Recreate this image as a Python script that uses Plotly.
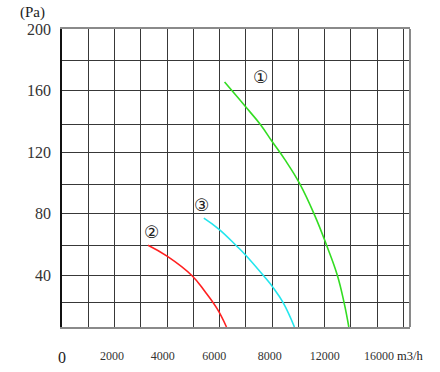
import plotly.graph_objects as go

# Curve data (x in chart axis units: one grid column = 1000)
flow_1 = [6190, 6960, 7560, 8000, 8480, 9055, 9630, 10070, 10480, 10740, 10920]
pres_1 = [165.5, 150.1, 137.8, 126.9, 115.3, 99.4, 78.6, 59.7, 40.2, 22.2, 6.4]
flow_2 = [3276, 4000, 4952, 5436, 5905, 6263]
pres_2 = [59.5, 52.4, 39.7, 29.6, 18.3, 6.4]
flow_3 = [5400, 5970, 6620, 6960, 7660, 8040, 8420, 8850]
pres_3 = [77.1, 70, 59.5, 53.7, 40, 32, 22.2, 6.4]

curve_labels = ["①", "②", "③"]
label_x = [7560, 3410, 5310]
label_y = [169, 68, 85.7]

x_tickvals = [1900, 3840, 5800, 7910, 10000, 12070]
x_ticktext = ["2000", "4000", "6000", "8000", "12000", "16000"]
y_tickvals = [22.2, 40, 59.5, 80, 99.2, 120, 137.8, 160, 179.6, 200]
y_ticktext = ["", "40", "", "80", "", "120", "", "160", "", "200"]

serif = "Liberation Serif, DejaVu Serif, serif"

fig = go.Figure()
for fx, py, col in [(flow_1, pres_1, "#33dd22"), (flow_2, pres_2, "#ff2020"), (flow_3, pres_3, "#22e6ee")]:
    fig.add_trace(go.Scatter(x=fx, y=py, mode="lines",
                             line=dict(color=col, width=1.6, shape="spline", smoothing=1.2),
                             showlegend=False, hoverinfo="skip"))

for t, lx, ly in zip(curve_labels, label_x, label_y):
    fig.add_annotation(x=lx, y=ly, text=t, showarrow=False, xanchor="center", yanchor="middle",
                       font=dict(family="DejaVu Sans", size=17, color="#222"))

fig.add_annotation(x=0, y=0, xref="x", yref="paper", yshift=-30, text="0", showarrow=False,
                   xanchor="center", yanchor="middle",
                   font=dict(family=serif, size=16, color="#222"))
fig.add_annotation(x=1, y=0, xref="paper", yref="paper", yshift=-29, text="m3/h", showarrow=False,
                   xanchor="center", yanchor="middle",
                   font=dict(family=serif, size=12.5, color="#222"))
fig.add_annotation(x=-0.086, y=1, xref="paper", yref="paper", yshift=17, text="(Pa)", showarrow=False,
                   xanchor="center", yanchor="middle",
                   font=dict(family=serif, size=15, color="#222"))

# right border
fig.add_shape(type="line", xref="paper", yref="paper", x0=1, x1=1, y0=0, y1=1,
              line=dict(color="#8a8a8a", width=2))

fig.update_layout(
    width=440, height=372,
    margin=dict(l=62, r=30, t=29, b=45, autoexpand=False),
    paper_bgcolor="white", plot_bgcolor="white",
    xaxis=dict(range=[0, 13250], tickmode="array", tickvals=x_tickvals, ticktext=x_ticktext,
               showgrid=False, zeroline=False, ticks="", ticklabelstandoff=17, automargin=False,
               tickfont=dict(family=serif, size=12, color="#333"),
               showline=True, linecolor="#8a8a8a", linewidth=2, mirror=True,
               minor=dict(tickmode="linear", tick0=0, dtick=1000, showgrid=True,
                          gridcolor="#383838", gridwidth=1.3, ticks="")),
    yaxis=dict(range=[6.4, 200], tickmode="array", tickvals=y_tickvals, ticktext=y_ticktext,
               showgrid=True, gridcolor="#383838", gridwidth=1.3, zeroline=False, ticks="",
               ticklabelstandoff=6, automargin=False,
               tickfont=dict(family=serif, size=16, color="#333"),
               showline=True, linecolor="#111", linewidth=1.5),
)

fig.write_html("out.html", config={"displayModeBar": False},
               post_script="document.body.style.margin='0';document.body.style.padding='0';")
